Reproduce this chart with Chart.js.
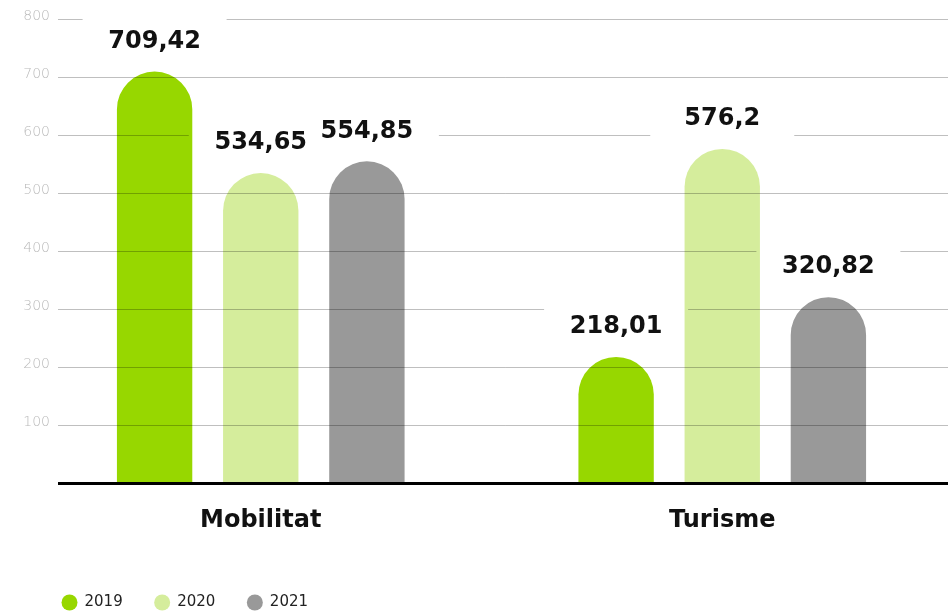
<!DOCTYPE html>
<html>
<head>
<meta charset="utf-8">
<script src="https://cdn.jsdelivr.net/npm/chart.js@4.4.1/dist/chart.umd.min.js"></script>
<style>
  html, body { margin: 0; padding: 0; background: #fff; overflow: hidden; }
  #wrap { width: 960px; height: 620px; }
</style>
</head>
<body>
<div id="wrap"><canvas id="despesaChart" width="960" height="620"></canvas></div>
<script>
const categories = ['Mobilitat', 'Turisme'];
const years = ['2019', '2020', '2021'];
const values2019 = [709.42, 218.01];
const values2020 = [534.65, 576.2];
const values2021 = [554.85, 320.82];
const yTicks = [100, 200, 300, 400, 500, 600, 700, 800];
const yearColors = ['#97d700', '#d5ed9c', '#999999'];

const FONT = "'DejaVu Sans', sans-serif";

function formatValue(v) {
    return String(v).replace('.', ',');
}

// grid lines are painted over the bars and break around the value labels
const overlayPlugin = {
    id: 'overlay',
    afterDatasetsDraw(chart) {
        const { ctx, chartArea, scales: { y } } = chart;
        const left = chartArea.left + 28;
        const right = chartArea.right;

        const labels = [];
        chart.data.datasets.forEach((ds, di) => {
            chart.getDatasetMeta(di).data.forEach((bar, i) => {
                labels.push({ x: bar.x, y: bar.y - 30, text: formatValue(ds.data[i]) });
            });
        });

        ctx.save();
        ctx.font = '300 14px ' + FONT;
        ctx.textAlign = 'right';
        ctx.textBaseline = 'middle';
        yTicks.forEach(t => {
            const py = Math.round(y.getPixelForValue(t)) + 0.5;
            const gaps = labels
                .filter(l => Math.abs(l.y - py) < 28)
                .map(l => [l.x - 72, l.x + 72])
                .sort((a, b) => a[0] - b[0]);
            ctx.strokeStyle = 'rgba(0, 0, 0, 0.25)';
            ctx.lineWidth = 1;
            ctx.beginPath();
            let x = left;
            gaps.forEach(([a, b]) => {
                if (a > x) {
                    ctx.moveTo(x, py);
                    ctx.lineTo(a, py);
                }
                x = Math.max(x, b);
            });
            if (x < right) {
                ctx.moveTo(x, py);
                ctx.lineTo(right, py);
            }
            ctx.stroke();

            ctx.fillStyle = '#b9b9b9';
            ctx.fillText(String(t), chartArea.left + 20, py - 3);
        });

        // baseline
        const base = y.getPixelForValue(0);
        ctx.strokeStyle = '#000';
        ctx.lineWidth = 3;
        ctx.beginPath();
        ctx.moveTo(left, base);
        ctx.lineTo(right, base);
        ctx.stroke();

        // value labels
        ctx.font = 'bold 24px ' + FONT;
        ctx.textAlign = 'center';
        ctx.fillStyle = '#111';
        labels.forEach(l => ctx.fillText(l.text, l.x, l.y));
        ctx.restore();
    }
};

const seriesValues = [values2019, values2020, values2021];

new Chart(document.getElementById('despesaChart').getContext('2d'), {
    type: 'bar',
    data: {
        labels: categories,
        datasets: years.map((yr, i) => ({
            label: yr,
            data: seriesValues[i],
            backgroundColor: yearColors[i],
            borderRadius: { topLeft: 40, topRight: 40, bottomLeft: 0, bottomRight: 0 },
            borderSkipped: false,
            barPercentage: 0.71,
            categoryPercentage: 0.69
        }))
    },
    options: {
        responsive: false,
        animation: false,
        devicePixelRatio: 1,
        layout: {
            padding: { left: 30, right: 7, top: 19, bottom: 0 }
        },
        scales: {
            x: {
                grid: { display: false },
                border: { display: false },
                ticks: {
                    color: '#111',
                    padding: 14.6,
                    font: { family: FONT, size: 24, weight: 'bold', lineHeight: 1.2 }
                }
            },
            y: {
                display: false,
                min: 0,
                max: 800
            }
        },
        plugins: {
            legend: {
                position: 'bottom',
                align: 'start',
                title: {
                    display: true,
                    text: '',
                    font: { size: 5, lineHeight: 1 },
                    padding: { top: 8.5, bottom: 0 }
                },
                labels: {
                    usePointStyle: true,
                    pointStyle: 'circle',
                    boxHeight: 11.3,
                    boxWidth: 15,
                    padding: 32,
                    color: '#222',
                    font: { family: FONT, size: 15 }
                }
            },
            tooltip: { enabled: false }
        }
    },
    plugins: [overlayPlugin]
});
</script>
</body>
</html>
